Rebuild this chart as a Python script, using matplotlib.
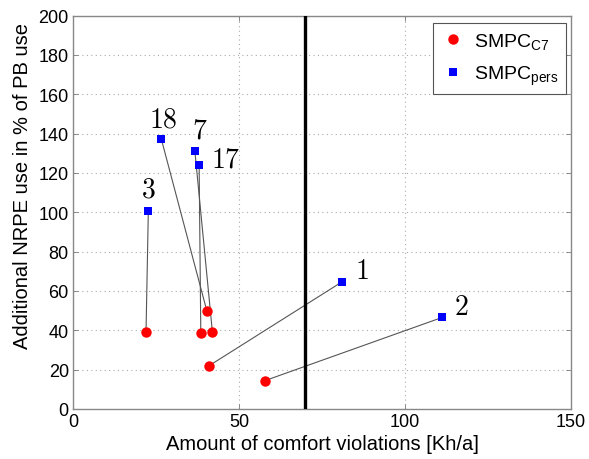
import matplotlib
matplotlib.use("Agg")
import matplotlib.pyplot as plt
from matplotlib.lines import Line2D

plt.rcParams['font.family'] = ['Liberation Sans', 'DejaVu Sans']
plt.rcParams['mathtext.fontset'] = 'custom'
plt.rcParams['mathtext.rm'] = 'Liberation Sans'
plt.rcParams['mathtext.it'] = 'Liberation Sans:italic'

# Data: SMPC_C7 (red) and SMPC_pers (blue), paired by case label
case_labels = ['3', '18', '7', '17', '1', '2']
c7_x = [22.0, 40.3, 42.0, 38.5, 41.0, 57.8]
c7_y = [39.0, 50.0, 39.0, 38.5, 22.0, 14.4]
pers_x = [22.7, 26.6, 36.7, 38.0, 81.1, 111.3]
pers_y = [100.7, 137.3, 131.3, 124.0, 64.7, 46.6]
label_x = [22.7, 27.1, 38.3, 45.9, 87.0, 117.0]
label_y = [111.5, 147.0, 141.5, 126.6, 70.3, 51.7]
threshold = 70
x_ticks = [0, 50, 100, 150]
y_ticks = list(range(0, 201, 20))

fig = plt.figure(figsize=(5.89, 4.60), dpi=100)
ax = fig.add_axes([0.1239, 0.1087, 0.8455, 0.8554])

for i in range(len(case_labels)):
    ax.plot([c7_x[i], pers_x[i]], [c7_y[i], pers_y[i]], color='#555555', lw=0.8, zorder=2)

ax.axvline(threshold, color='black', lw=2.4, zorder=3)

ax.plot(c7_x, c7_y, 'o', color='#ff0000', markersize=7.5, markeredgewidth=0, zorder=4)
ax.plot(pers_x, pers_y, 's', color='#0000ff', markersize=6.2, markeredgewidth=0, zorder=4)

for lab, lx, ly in zip(case_labels, label_x, label_y):
    ax.text(lx, ly, '$' + lab + '$', fontsize=20, math_fontfamily='cm',
            ha='center', va='center', zorder=5)

ax.set_xlim(0, 150)
ax.set_ylim(0, 200)
ax.set_xticks(x_ticks)
ax.set_yticks(y_ticks)
ax.tick_params(direction='in', length=3.6, width=0.6, color='#777777',
               top=True, right=True, labelsize=13, pad=3)
for s in ax.spines.values():
    s.set_color('#888888')
    s.set_linewidth(1.0)
ax.grid(True, linestyle=(0, (1, 3)), color='#aaaaaa', lw=0.8)
ax.set_axisbelow(True)

ax.set_xlabel('Amount of comfort violations [Kh/a]', fontsize=14.5, labelpad=3)
ax.set_ylabel('Additional NRPE use in % of PB use', fontsize=14.5)
ax.yaxis.set_label_coords(-0.082, 0.57)

handles = [
    Line2D([], [], marker='o', color='#ff0000', ls='none', markersize=7.5, markeredgewidth=0),
    Line2D([], [], marker='s', color='#0000ff', ls='none', markersize=6.2, markeredgewidth=0),
]
leg = ax.legend(handles, [r'SMPC$_\mathrm{C7}$', r'SMPC$_\mathrm{pers}$'],
                loc='upper right', bbox_to_anchor=(0.991, 0.981), fontsize=14,
                frameon=True, fancybox=False, edgecolor='#555555', framealpha=1,
                handletextpad=0.5, handlelength=1.2, borderpad=0.4, labelspacing=0.65,
                borderaxespad=0)
leg.get_frame().set_linewidth(0.8)

fig.savefig('out.png', dpi=100)
